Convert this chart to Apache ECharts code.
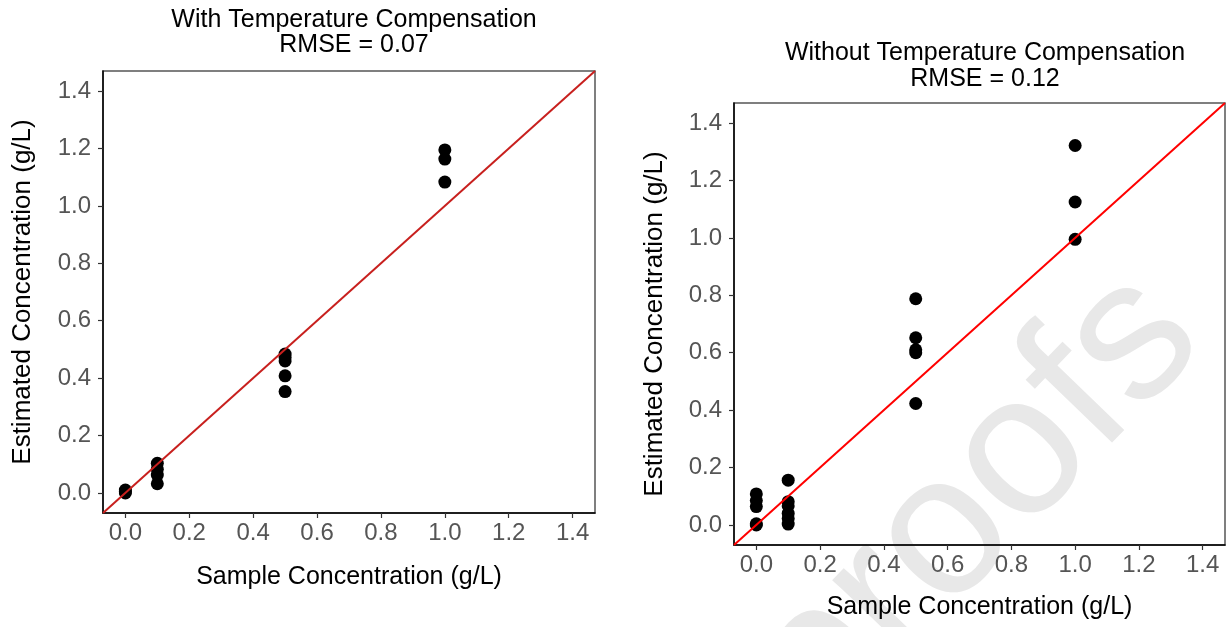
<!DOCTYPE html>
<html>
<head>
<meta charset="utf-8">
<script src="https://cdn.jsdelivr.net/npm/echarts@6/dist/echarts.min.js"></script>
<style>
  html, body { margin: 0; padding: 0; background: #fff; }
  #chart { width: 1229px; height: 627px; }
</style>
</head>
<body>
<div id="chart"></div>
<script>
// sample concentration (g/L) and estimated values
const withX = [0, 0, 0, 0.1, 0.1, 0.1, 0.1, 0.5, 0.5, 0.5, 0.5, 0.5, 1.0, 1.0, 1.0]
const withY = [0, 0.005, 0.01, 0.103, 0.082, 0.062, 0.032, 0.484, 0.472, 0.46, 0.408, 0.353, 1.195, 1.163, 1.083]

const withoutX = [0, 0, 0, 0, 0, 0.1, 0.1, 0.1, 0.1, 0.1, 0.1, 0.5, 0.5, 0.5, 0.5, 0.5, 1.0, 1.0, 1.0]
const withoutY = [0.108, 0.085, 0.064, 0.004, 0.0, 0.156, 0.081, 0.066, 0.04, 0.022, 0.003, 0.788, 0.652, 0.61, 0.6, 0.423, 1.322, 1.125, 0.995]

const tickValues = [0, 0.2, 0.4, 0.6, 0.8, 1.0, 1.2, 1.4]
const axisRange = [-0.07, 1.47]
const identityLine = [-0.07, 1.47]

const titles = ['With Temperature Compensation\nRMSE = 0.07', 'Without Temperature Compensation\nRMSE = 0.12']
const xName = 'Sample Concentration (g/L)'
const yName = 'Estimated Concentration (g/L)'

const font = 'Liberation Sans, Arial, sans-serif'

const zip = (xs, ys) => xs.map((x, i) => [x, ys[i]])

const makeAxis = (idx, isX, gap) => ({
  type: 'value',
  gridIndex: idx,
  min: axisRange[0],
  max: axisRange[1],
  name: isX ? xName : yName,
  nameLocation: 'middle',
  nameGap: gap,
  nameTextStyle: {
    fontFamily: font,
    fontSize: isX ? 25 : 26,
    color: '#000'
  },
  axisLine: {
    show: true,
    onZero: false,
    lineStyle: {color: '#000', width: 1.5}
  },
  axisTick: {
    show: true,
    length: 5,
    customValues: tickValues,
    lineStyle: {color: '#333', width: 1.2}
  },
  axisLabel: {
    customValues: tickValues,
    margin: isX ? 8 : 12,
    fontFamily: font,
    fontSize: 24,
    color: '#555',
    formatter: (v) => v.toFixed(1)
  },
  splitLine: {show: false}
})

const chart = echarts.init(document.getElementById('chart'))

chart.setOption({
  animation: false,
  backgroundColor: '#fff',
  title: [
    {
      text: titles[0],
      left: 349,
      top: 3,
      textAlign: 'center',
      textStyle: {fontFamily: font, fontSize: 25, fontWeight: 'normal', color: '#000', lineHeight: 25}
    },
    {
      text: titles[1],
      left: 980,
      top: 35,
      textAlign: 'center',
      textStyle: {fontFamily: font, fontSize: 25, fontWeight: 'normal', color: '#000', lineHeight: 26}
    }
  ],
  grid: [
    {left: 103, top: 71, width: 492, height: 442, show: true, borderColor: '#555', borderWidth: 1.5, containLabel: false},
    {left: 734, top: 103, width: 491, height: 442, show: true, borderColor: '#555', borderWidth: 1.5, containLabel: false}
  ],
  xAxis: [makeAxis(0, true, 52), makeAxis(1, true, 50)],
  yAxis: [makeAxis(0, false, 67), makeAxis(1, false, 66)],
  graphic: [
    {
      type: 'text',
      z: -10,
      silent: true,
      x: 975,
      y: 505,
      rotation: 46 * Math.PI / 180,
      style: {
        text: 'proofs',
        font: '200px ' + font,
        fill: '#e8e8e8',
        align: 'center',
        verticalAlign: 'middle'
      }
    }
  ],
  series: [
    {
      type: 'line',
      xAxisIndex: 0,
      yAxisIndex: 0,
      data: zip(identityLine, identityLine),
      symbol: 'none',
      lineStyle: {color: '#c8201e', width: 2},
      z: 3
    },
    {
      type: 'scatter',
      xAxisIndex: 0,
      yAxisIndex: 0,
      data: zip(withX, withY),
      symbolSize: 13,
      itemStyle: {color: '#000', opacity: 1},
      z: 2
    },
    {
      type: 'line',
      xAxisIndex: 1,
      yAxisIndex: 1,
      data: zip(identityLine, identityLine),
      symbol: 'none',
      lineStyle: {color: '#ff0000', width: 2},
      z: 3
    },
    {
      type: 'scatter',
      xAxisIndex: 1,
      yAxisIndex: 1,
      data: zip(withoutX, withoutY),
      symbolSize: 13,
      itemStyle: {color: '#000', opacity: 1},
      z: 2
    }
  ]
})
</script>
</body>
</html>
